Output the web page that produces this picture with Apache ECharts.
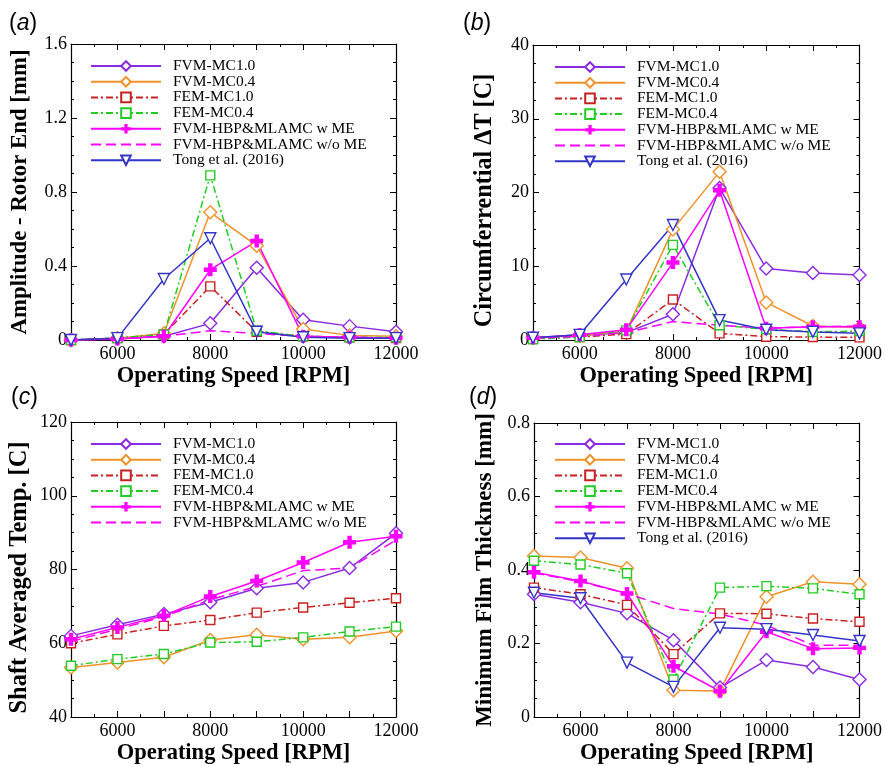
<!DOCTYPE html>
<html><head><meta charset="utf-8">
<script src="https://cdn.jsdelivr.net/npm/echarts@6/dist/echarts.min.js"></script>
<style>html,body{margin:0;padding:0;background:#fff}#c{width:885px;height:766px}</style>
</head><body><div id="c"></div><script>
// ---------------- data ----------------
const speeds = [5000, 6000, 7000, 8000, 9000, 10000, 11000, 12000];
const names = ['FVM-MC1.0', 'FVM-MC0.4', 'FEM-MC1.0', 'FEM-MC0.4',
  'FVM-HBP&MLAMC w ME', 'FVM-HBP&MLAMC w/o ME', 'Tong et al. (2016)'];

// (a) Amplitude - Rotor End [mm]
const aFvmMC10 = [0.0, 0.01, 0.02, 0.09, 0.39, 0.11, 0.075, 0.045];
const aFvmMC04 = [0.0, 0.01, 0.035, 0.69, 0.51, 0.06, 0.025, 0.02];
const aFemMC10 = [0.0, 0.01, 0.03, 0.29, 0.045, 0.02, 0.015, 0.01];
const aFemMC04 = [0.0, 0.01, 0.03, 0.89, 0.05, 0.02, 0.015, 0.015];
const aHbpWME = [0.0, 0.005, 0.02, 0.38, 0.535, 0.02, 0.015, 0.01];
const aHbpWoME = [0.0, 0.005, 0.02, 0.05, 0.035, 0.02, 0.015, 0.01];
const aTong = [0.0, 0.01, 0.33, 0.55, 0.045, 0.015, 0.01, 0.01];

// (b) Circumferential dT [C]
const bFvmMC10 = [0.3, 0.6, 1.0, 3.5, 20.6, 9.7, 9.1, 8.8];
const bFvmMC04 = [0.3, 0.6, 1.2, 15.0, 22.8, 5.1, 1.9, 1.7];
const bFemMC10 = [0.2, 0.4, 0.8, 5.5, 0.9, 0.45, 0.4, 0.35];
const bFemMC04 = [0.1, 0.4, 1.3, 12.9, 2.0, 1.45, 1.1, 1.2];
const bHbpWME = [0.3, 0.7, 1.4, 10.5, 20.3, 1.6, 1.8, 1.8];
const bHbpWoME = [0.2, 0.5, 1.0, 2.5, 2.0, 1.6, 1.8, 1.9];
const bTong = [0.3, 0.7, 8.2, 15.6, 2.7, 1.4, 1.1, 0.9];

// (c) Shaft Averaged Temp. [C]
const cFvmMC10 = [62.0, 65.0, 67.9, 71.1, 74.9, 76.5, 80.4, 89.8];
const cFvmMC04 = [53.4, 54.8, 56.2, 60.9, 62.3, 61.1, 61.6, 63.3];
const cFemMC10 = [60.0, 62.4, 64.7, 66.3, 68.3, 69.7, 71.0, 72.2];
const cFemMC04 = [53.9, 55.7, 57.1, 60.2, 60.4, 61.6, 63.2, 64.5];
const cHbpWME = [61.1, 64.3, 67.5, 72.7, 76.9, 81.9, 87.4, 89.0];
const cHbpWoME = [60.5, 63.8, 67.2, 71.8, 75.4, 79.7, 80.4, 88.0];

// (d) Minimum Film Thickness [mm]
const dFvmMC10 = [0.334, 0.312, 0.282, 0.209, 0.080, 0.155, 0.136, 0.102];
const dFvmMC04 = [0.438, 0.434, 0.405, 0.073, 0.071, 0.327, 0.368, 0.361];
const dFemMC10 = [0.352, 0.334, 0.305, 0.171, 0.282, 0.281, 0.268, 0.259];
const dFemMC04 = [0.425, 0.415, 0.391, 0.102, 0.352, 0.356, 0.350, 0.334];
const dHbpWME = [0.394, 0.370, 0.336, 0.138, 0.070, 0.232, 0.186, 0.188];
const dHbpWoME = [0.392, 0.368, 0.336, 0.295, 0.280, 0.250, 0.195, 0.195];
const dTong = [0.338, 0.323, 0.148, 0.082, 0.243, 0.239, 0.223, 0.207];

const panelSeries = [
  [aFvmMC10, aFvmMC04, aFemMC10, aFemMC04, aHbpWME, aHbpWoME, aTong],
  [bFvmMC10, bFvmMC04, bFemMC10, bFemMC04, bHbpWME, bHbpWoME, bTong],
  [cFvmMC10, cFvmMC04, cFemMC10, cFemMC04, cHbpWME, cHbpWoME, null],
  [dFvmMC10, dFvmMC04, dFemMC10, dFemMC04, dHbpWME, dHbpWoME, dTong]
];
const yTitles = ['Amplitude - Rotor End [mm]', 'Circumferrential \u0394T [C]',
  'Shaft Averaged Temp. [C]', 'Minimum Film Thickness [mm]'];
const yRanges = [[0, 1.6, 0.4], [0, 40, 10], [40, 120, 20], [0, 0.8, 0.2]];
const xTitle = 'Operating Speed [RPM]';
const panelLetters = ['a', 'b', 'c', 'd'];

// ---------------- layout / style ----------------
const grids = [
  {left: 71, top: 44, width: 325, height: 296},
  {left: 533, top: 45, width: 329, height: 295},
  {left: 71, top: 422, width: 325, height: 295},
  {left: 534, top: 423, width: 326, height: 294}
];
const yNameGap = [39, 36, 39, 37];
const yNameSize = [22.8, 24.2, 24.5, 23];
const yNamePad = [[0, 0, 0, 0], [0, 16, 0, 0], [0, 16, 0, 0], [0, 0, 0, 0]];
const legendPos = [{left: 90, top: 58}, {left: 554, top: 59}, {left: 90, top: 436}, {left: 554, top: 436}];
const letterPos = [[9, 12], [463, 12], [11, 386], [469, 386]];

const serif = '"Liberation Serif", "Times New Roman", serif';
const plusPath = 'path://M3.3,0 L6.7,0 L6.7,3.3 L10,3.3 L10,6.7 L6.7,6.7 L6.7,10 L3.3,10 L3.3,6.7 L0,6.7 L0,3.3 L3.3,3.3 Z';
const dashDot = [7, 3, 2, 3];
const styles = [
  {color: '#8a2be2', symbol: 'diamond', size: 13, hollow: true, type: 'solid'},
  {color: '#f0922b', symbol: 'diamond', size: 13, hollow: true, type: 'solid'},
  {color: '#c82020', symbol: 'rect', size: 9, hollow: true, type: dashDot},
  {color: '#22cc22', symbol: 'rect', size: 9, hollow: true, type: dashDot},
  {color: '#ff00ff', symbol: plusPath, size: 13, hollow: false, type: 'solid'},
  {color: '#ff00ff', symbol: 'none', size: 0, hollow: false, type: [10, 5]},
  {color: '#3434c8', symbol: 'triangle', size: 11, hollow: true, type: 'solid', rotate: 180}
];

const xAxes = [], yAxes = [], series = [], legends = [], graphics = [];
grids.forEach((g, i) => {
  const tickCommon = {
    axisLine: {show: true, onZero: false, lineStyle: {color: '#000', width: 1.2}},
    axisTick: {show: true, inside: true, length: 6, lineStyle: {color: '#000'}},
    minorTick: {show: true, splitNumber: 2, length: 3, lineStyle: {color: '#000'}},
    splitLine: {show: false}
  };
  ['bottom', 'top'].forEach((pos, k) => {
    xAxes.push(Object.assign({
      type: 'value', gridIndex: i, position: pos, min: 5000, max: 12000, interval: 1000,
      axisLabel: {show: k === 0, color: '#000', fontFamily: serif, fontSize: 18, margin: 5,
        formatter: v => (v % 2000 === 0 ? String(v) : '')},
      name: k === 0 ? xTitle : '', nameLocation: 'middle', nameGap: 25,
      nameTextStyle: {color: '#000', fontFamily: serif, fontWeight: 'bold', fontSize: 22.5}
    }, JSON.parse(JSON.stringify(tickCommon))));
  });
  const yr = yRanges[i];
  ['left', 'right'].forEach((pos, k) => {
    const ax = Object.assign({
      type: 'value', gridIndex: i, position: pos, min: yr[0], max: yr[1], interval: yr[2],
      axisLabel: {show: k === 0, color: '#000', fontFamily: serif, fontSize: 18, margin: 4},
      name: k === 0 ? yTitles[i] : '', nameLocation: 'middle', nameGap: yNameGap[i],
      nameTextStyle: {color: '#000', fontFamily: serif, fontWeight: 'bold', fontSize: yNameSize[i],
        padding: yNamePad[i]}
    }, JSON.parse(JSON.stringify(tickCommon)));
    ax.minorTick.splitNumber = 4;
    yAxes.push(ax);
  });
  const legendData = [];
  panelSeries[i].forEach((vals, j) => {
    if (!vals) return;
    const st = styles[j];
    legendData.push(st.symbol === 'none'
      ? {name: names[j], itemStyle: {opacity: 0}}
      : {name: names[j]});
    series.push({
      type: 'line', name: names[j], xAxisIndex: 2 * i, yAxisIndex: 2 * i,
      data: speeds.map((s, k) => [s, vals[k]]),
      symbol: st.symbol, symbolSize: st.size, symbolRotate: st.rotate || 0,
      showSymbol: st.symbol !== 'none', clip: false,
      lineStyle: {color: st.color, width: 1.5, type: st.type},
      itemStyle: {color: st.hollow ? '#fff' : st.color, borderColor: st.color, borderWidth: st.hollow ? 1.4 : 0},
      emphasis: {disabled: true}, animation: false
    });
  });
  legends.push({
    orient: 'vertical', left: legendPos[i].left, top: legendPos[i].top,
    padding: 0,
    data: legendData, itemWidth: 70, itemHeight: 12, itemGap: -0.3,
    selectedMode: false,
    textStyle: {color: '#000', fontFamily: serif, fontSize: 15.5, padding: [0, 0, 0, 7]}
  });
  graphics.push({
    type: 'text', left: letterPos[i][0], top: letterPos[i][1],
    style: {
      text: '{p|(}{i|' + panelLetters[i] + '}{p|)}',
      rich: {
        p: {fontFamily: '"Liberation Sans", Arial, sans-serif', fontSize: 23, fill: '#000'},
        i: {fontFamily: '"Liberation Sans", Arial, sans-serif', fontSize: 23, fontStyle: 'italic', fill: '#000'}
      }
    }
  });
});

const chart = echarts.init(document.getElementById('c'), null, {renderer: 'canvas'});
chart.setOption({
  backgroundColor: '#fff',
  animation: false,
  grid: grids,
  xAxis: xAxes,
  yAxis: yAxes,
  legend: legends,
  series: series,
  graphic: graphics
});
</script></body></html>
